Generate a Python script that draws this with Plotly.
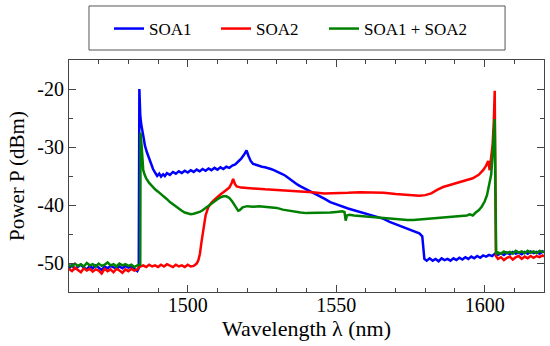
import plotly.graph_objects as go

# ---------------- data ----------------
soa1_wl = [1460, 1461, 1462, 1463, 1464, 1465, 1466, 1467, 1468, 1469, 1470, 1471, 1472, 1473, 1474,
           1475, 1476, 1477, 1478, 1479, 1480, 1481, 1482, 1483, 1483.5, 1483.7, 1484.0, 1484.3, 1485.0,
           1485.6, 1486.3, 1487.0, 1487.6, 1488.3, 1489, 1489.7, 1490.4, 1491, 1491.7, 1492.3, 1493,
           1494, 1495, 1496, 1497, 1498, 1499, 1500, 1501, 1502, 1503, 1504, 1505, 1506, 1507, 1508,
           1509, 1510, 1511, 1512, 1513, 1514, 1515, 1516, 1517, 1518, 1519, 1519.8, 1520.5, 1521.2,
           1522, 1523, 1524, 1525, 1526, 1527, 1528, 1529, 1530, 1531, 1532, 1533, 1534, 1535, 1536,
           1537, 1538, 1540, 1542, 1544, 1546, 1548, 1550, 1552, 1554, 1556, 1558, 1560, 1562, 1564,
           1566, 1568, 1570, 1572, 1574, 1576, 1578, 1579, 1579.4, 1579.7, 1580.5, 1581.5, 1582.5,
           1583.5, 1584.5, 1585.5, 1586.5, 1587.5, 1588.5, 1589.5, 1590.5, 1591.5, 1592.5, 1593.5,
           1594.5, 1595.5, 1596.5, 1597.5, 1598.5, 1599.5, 1600.5, 1601.5, 1602.5, 1603.5, 1604.5,
           1605.5, 1606.5, 1607.5, 1608.5, 1609.5, 1610.5, 1611.5, 1612.5, 1613.5, 1614.5, 1615.5,
           1616.5, 1617.5, 1618.5, 1619.5, 1620]
soa1_p = [-50.9, -50.4, -51.0, -50.6, -50.3, -50.8, -51.1, -50.5, -50.9, -50.4, -50.8, -51.2, -50.6, -50.9, -50.5,
          -50.7, -51.0, -50.6, -50.9, -50.5, -50.8, -50.6, -51.0, -51.4, -50.9, -20.0, -24.5, -26.0, -28.0,
          -29.8, -31.0, -32.0, -32.8, -33.8, -34.4, -35.0, -34.6, -35.1, -34.7, -35.0, -34.5,
          -34.8, -34.3, -34.6, -34.2, -34.5, -34.1, -34.4, -34.0, -34.3, -33.9, -34.2, -33.8, -34.1, -33.7, -34.0,
          -33.6, -33.9, -33.5, -33.8, -33.4, -33.6, -33.2, -33.0, -32.5, -32.0, -31.3, -30.6, -31.6, -32.4,
          -32.9, -33.1, -33.3, -33.4, -33.5, -33.6, -33.8, -34.0, -34.2, -34.4, -34.7, -35.0, -35.4, -35.8, -36.2,
          -36.5, -36.8, -37.3, -37.8, -38.3, -38.9, -39.5, -39.9, -40.3, -40.6, -40.9, -41.2, -41.5, -41.8, -42.1,
          -42.4, -42.9, -43.3, -43.7, -44.1, -44.5, -44.9, -45.4, -47.5, -49.3, -49.6, -49.2, -49.6,
          -49.3, -49.7, -49.2, -49.5, -49.3, -49.6, -49.2, -49.5, -49.1, -49.4, -49.0,
          -49.3, -48.9, -49.2, -48.8, -49.1, -48.7, -48.9, -48.6, -48.8, -48.4, -48.6,
          -48.3, -48.6, -48.2, -48.5, -48.1, -48.4, -48.2, -48.5, -48.1, -48.4, -48.0,
          -48.3, -48.1, -48.4, -48.0, -48.2]

soa2_wl = [1460, 1461, 1462, 1463, 1464, 1465, 1466, 1467, 1468, 1469, 1470, 1471, 1472, 1473, 1474,
           1475, 1476, 1477, 1478, 1479, 1480, 1481, 1482, 1483, 1484, 1485, 1486, 1487, 1488, 1489,
           1490, 1491, 1492, 1493, 1494, 1495, 1496, 1497, 1498, 1499, 1500, 1501, 1502, 1503, 1503.6,
           1504.1, 1504.6, 1505, 1505.5, 1506, 1506.9, 1508, 1509, 1510, 1511, 1512, 1513, 1514, 1514.8,
           1515.3, 1515.9, 1516.5, 1518, 1520, 1523, 1526, 1530, 1534, 1538, 1542, 1546, 1550, 1554,
           1558, 1562, 1566, 1570, 1574, 1578, 1580, 1582, 1584, 1586, 1588, 1590, 1592, 1594, 1596,
           1598, 1599.5, 1600.5, 1601.2, 1601.7, 1602.2, 1602.7, 1603.1, 1603.4, 1603.6, 1603.8, 1604.5,
           1605.5, 1606.5, 1607.5, 1608.5, 1609.5, 1610.5, 1611.5, 1612.5, 1613.5, 1614.5, 1615.5,
           1616.5, 1617.5, 1618.5, 1619.5, 1620]
soa2_p = [-51.0, -51.4, -50.8, -51.2, -51.6, -50.9, -51.3, -51.0, -51.5, -51.1, -51.3, -51.8, -51.0, -51.4, -51.1,
          -51.6, -51.0, -51.3, -51.7, -51.1, -51.4, -51.0, -51.3, -51.1, -50.6, -50.4, -50.7, -50.3, -50.6, -50.4,
          -50.7, -50.3, -50.6, -50.2, -50.5, -50.7, -50.3, -50.6, -50.4, -50.7, -50.3, -50.6, -50.5, -50.1, -49.5,
          -48.4, -46.5, -45.0, -43.0, -41.8, -40.4, -39.6, -39.1, -38.6, -38.2, -37.8, -37.4, -37.0, -36.2,
          -35.5, -36.4, -36.8, -37.0, -37.1, -37.2, -37.3, -37.4, -37.5, -37.6, -37.8, -38.0, -38.0, -37.9,
          -37.8, -37.8, -37.9, -38.1, -38.2, -38.4, -38.3, -38.0, -37.4, -36.9, -36.6, -36.3, -36.1, -35.8, -35.4,
          -34.8, -34.0, -33.2, -32.4, -34.0, -32.0, -29.5, -25.5, -20.3, -35.0, -48.8, -49.3,
          -49.0, -49.5, -49.1, -48.9, -49.4, -49.0, -48.8, -49.3, -48.9, -49.2, -48.8,
          -49.1, -48.8, -49.0, -48.7, -48.9]

sum_wl = [1460, 1461, 1462, 1463, 1464, 1465, 1466, 1467, 1468, 1469, 1470, 1471, 1472, 1473, 1474,
          1475, 1476, 1477, 1478, 1479, 1480, 1481, 1482, 1483, 1484.0, 1484.1, 1484.5, 1485, 1485.5,
          1486, 1487, 1488, 1489, 1490, 1491, 1492, 1493, 1494, 1495, 1496, 1497, 1498, 1499, 1500,
          1501, 1502, 1503, 1504, 1505, 1506, 1507, 1508, 1509, 1510, 1511, 1512, 1513, 1514, 1515,
          1516, 1517, 1517.5, 1518.5, 1520, 1522, 1524, 1526, 1528, 1530, 1532, 1534, 1536, 1538, 1540,
          1542, 1544, 1546, 1548, 1550, 1552, 1552.8, 1553.2, 1553.6, 1554.5, 1556, 1558, 1560, 1562,
          1564, 1566, 1568, 1570, 1572, 1574, 1576, 1578, 1580, 1582, 1584, 1586, 1588, 1590, 1592,
          1594, 1595, 1596, 1597, 1598, 1599, 1600, 1600.8, 1601.5, 1602.2, 1602.7, 1603.1, 1603.4,
          1603.7, 1603.9, 1604.5, 1605.5, 1606.5, 1607.5, 1608.5, 1609.5, 1610.5, 1611.5, 1612.5,
          1613.5, 1614.5, 1615.5, 1616.5, 1617.5, 1618.5, 1619.5, 1620]
sum_p = [-50.3, -50.6, -50.1, -50.5, -50.2, -50.6, -50.0, -50.4, -50.2, -50.6, -50.1, -50.5, -50.3, -49.9, -50.4,
         -50.2, -50.6, -50.1, -50.4, -50.2, -50.5, -50.3, -50.7, -50.4, -50.3, -27.5, -30.0, -34.0, -34.8,
         -35.4, -36.2, -36.8, -37.3, -37.7, -38.1, -38.6, -39.0, -39.5, -39.9, -40.3, -40.7, -41.0, -41.3, -41.5,
         -41.6, -41.5, -41.4, -41.2, -40.9, -40.5, -40.2, -39.8, -39.4, -39.0, -38.7, -38.5, -38.5, -38.8, -39.4,
         -40.3, -41.0, -40.9, -40.4, -40.2, -40.3, -40.2, -40.3, -40.4, -40.5, -40.8, -41.0, -41.2, -41.3, -41.4,
         -41.4, -41.4, -41.3, -41.3, -41.2, -41.1, -41.2, -42.7, -41.8, -41.7, -41.8, -41.9, -42.0, -42.1,
         -42.2, -42.3, -42.4, -42.5, -42.5, -42.6, -42.6, -42.5, -42.5, -42.4, -42.3, -42.2, -42.1, -42.0, -41.9,
         -41.8, -41.6, -41.8, -41.3, -40.9, -40.3, -39.4, -38.3, -36.8, -34.8, -31.5, -28.5, -25.2,
         -40.0, -48.5, -48.2, -48.4, -48.0, -48.3, -48.1, -48.4, -47.9, -48.2, -48.0,
         -48.3, -47.9, -48.2, -48.0, -48.3, -47.9, -48.1, -48.0]

series_names = ["SOA1", "SOA2", "SOA1 + SOA2"]
series_colors = ["#0000ff", "#ff0000", "#008000"]

y_tick_vals = [-50, -40, -30, -20]
y_tick_text = ["-50", "-40", "-30", "-20"]
x_tick_vals = [1500, 1550, 1600]
x_tick_text = ["1500", "1550", "1600"]

FONT = "Liberation Serif, DejaVu Serif, serif"

fig = go.Figure()
legend_ids = ["legend", "legend2", "legend3"]
for wl, p, name, col, lg in zip([soa1_wl, soa2_wl, sum_wl], [soa1_p, soa2_p, sum_p],
                                series_names, series_colors, legend_ids):
    fig.add_trace(go.Scatter(x=wl, y=p, mode="lines", name=name, legend=lg, showlegend=True,
                             line=dict(color=col, width=2.5)))

axis_common = dict(showline=True, linecolor="#444", linewidth=1.2, mirror="ticks",
                   ticks="inside", ticklen=7, tickcolor="#444", tickwidth=1.2,
                   showgrid=False, zeroline=False,
                   tickfont=dict(family=FONT, size=20, color="black"))

fig.update_xaxes(range=[1460, 1620], tickvals=x_tick_vals, ticktext=x_tick_text,
                 ticklabelstandoff=-5,
                 minor=dict(dtick=10, ticks="inside", ticklen=4, tickcolor="#444", tickwidth=1),
                 title=dict(text="Wavelength λ (nm)", font=dict(family=FONT, size=22, color="black"),
                            standoff=2),
                 **axis_common)
fig.update_yaxes(range=[-55, -15], tickvals=y_tick_vals, ticktext=y_tick_text,
                 minor=dict(tickvals=[-55, -45, -35, -25, -15], ticks="inside", ticklen=4,
                            tickcolor="#444", tickwidth=1),
                 title=dict(text="Power P (dBm)", font=dict(family=FONT, size=21, color="black"),
                            standoff=6),
                 **axis_common)

fig.add_shape(type="rect", xref="paper", yref="paper", x0=0.0421, x1=0.918, y0=1.0431, y1=1.2328,
              line=dict(color="#555", width=1), fillcolor="rgba(0,0,0,0)")

legend_style = dict(orientation="h", xanchor="left", yanchor="middle", y=1.1336,
                    bgcolor="rgba(0,0,0,0)", borderwidth=0,
                    font=dict(family=FONT, size=17, color="black"))

fig.update_layout(
    width=550, height=346,
    margin=dict(l=69, r=6, t=60, b=54),
    plot_bgcolor="white", paper_bgcolor="white",
    font=dict(family=FONT, size=17, color="black"),
    showlegend=True,
    legend=dict(x=0.0842, **legend_style),
    legend2=dict(x=0.3095, **legend_style),
    legend3=dict(x=0.5368, **legend_style),
)

fig.write_html("out.html", config={"displayModeBar": False},
               post_script="document.body.style.margin='0px';")
